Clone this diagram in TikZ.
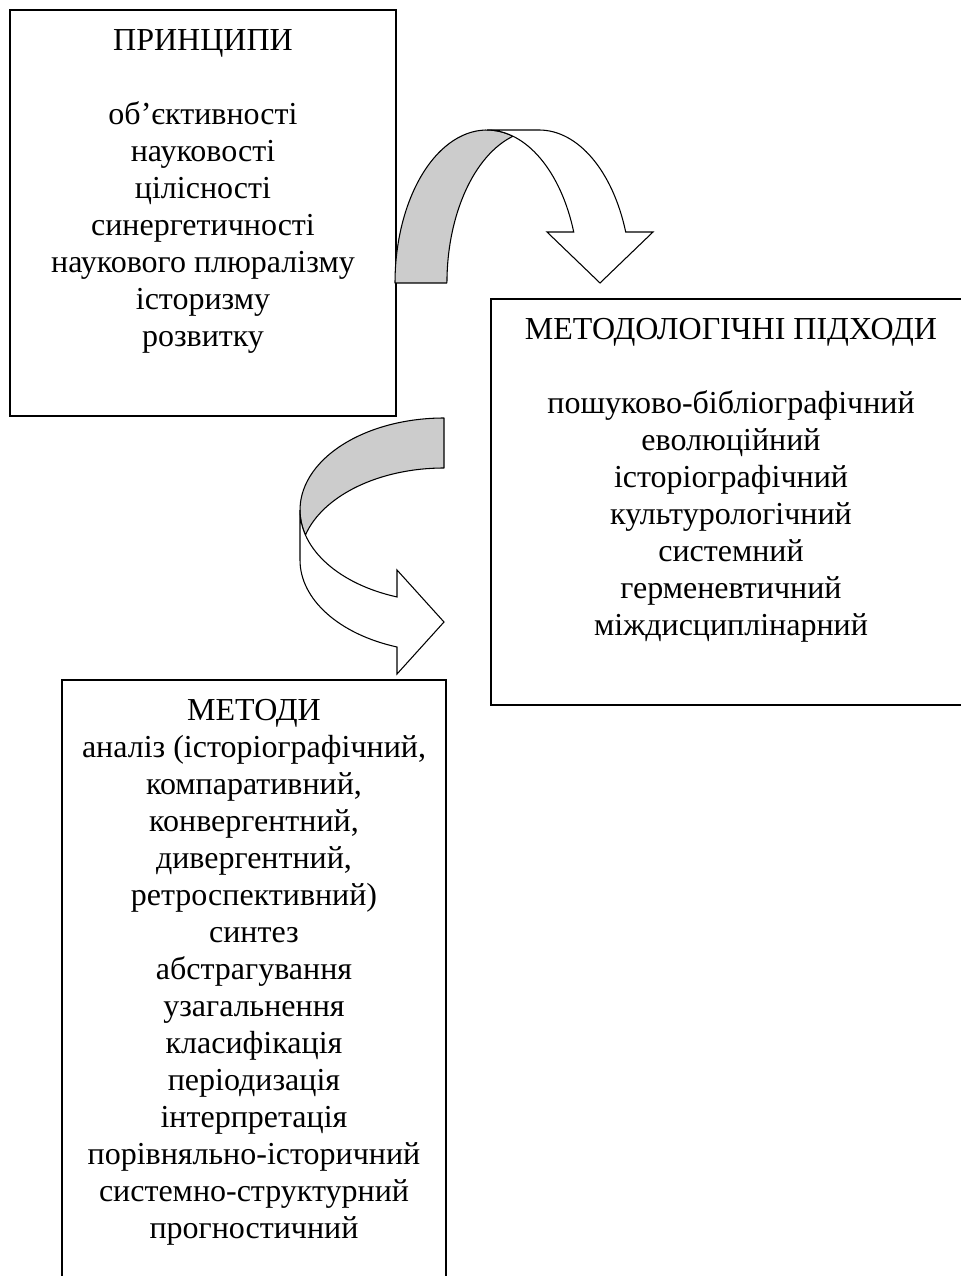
\documentclass[tikz,border=0pt]{standalone}
\usepackage{fontspec}
\setmainfont{Liberation Serif}
\usetikzlibrary{positioning,fit}

\begin{document}
\begin{tikzpicture}[
  x=0.75pt, y=0.75pt,
  frame/.style={draw, line width=0.8pt, inner sep=0pt},
  boxtext/.style={align=center, inner sep=0pt, font=\fontsize{24}{27.75}\selectfont},
  backpart/.style={draw, line width=0.8pt, fill=black!20, line join=round},
  frontpart/.style={draw, line width=0.8pt, fill=white, line join=miter},
]
\useasboundingbox (0,0) rectangle (960,-1276);

% frames
\node[frame, fit={(10,-10) (396,-416)}] (prinbox) {};
\node[frame, fit={(491,-299) (971,-705)}] (approachbox) {};
\node[frame, fit={(62,-680) (446,-1290)}] (methodbox) {};

% texts
\node[boxtext, below=14.6pt of prinbox.north] (prin) {ПРИНЦИПИ\\[27.75pt]
  об’єктивності\\ науковості\\ цілісності\\ синергетичності\\
  наукового плюралізму\\ історизму\\ розвитку};
\node[boxtext, below=14.6pt of approachbox.north] (approach) {МЕТОДОЛОГІЧНІ ПІДХОДИ\\[27.75pt]
  пошуково-бібліографічний\\ еволюційний\\ історіографічний\\ культурологічний\\
  системний\\ герменевтичний\\ міждисциплінарний};
\node[boxtext, below=14.6pt of methodbox.north] (method) {МЕТОДИ\\
  аналіз (історіографічний,\\ компаративний,\\ конвергентний,\\ дивергентний,\\
  ретроспективний)\\ синтез\\ абстрагування\\ узагальнення\\ класифікація\\
  періодизація\\ інтерпретація\\ порівняльно-історичний\\ системно-структурний\\
  прогностичний};

% curved arrow down, principles -> approaches
\draw[backpart] (395,-283) arc[start angle=180, end angle=73.6, x radius=92, y radius=153]
  arc[start angle=106.4, end angle=180, x radius=92, y radius=153] -- cycle;
\draw[frontpart] (487,-130) arc[start angle=90, end angle=19.47, x radius=92, y radius=153]
  -- (547,-232) -- (600,-283) -- (653,-232) -- (625.7,-232)
  arc[start angle=19.47, end angle=90, x radius=92, y radius=153] -- cycle;

% curved arrow right, towards the methods
\draw[backpart] (444,-418) arc[start angle=90, end angle=195.77, x radius=144, y radius=92]
  arc[start angle=164.23, end angle=90, x radius=144, y radius=92] -- cycle;
\draw[frontpart] (300,-510) arc[start angle=180, end angle=250.95, x radius=144, y radius=92]
  -- (397,-570) -- (444,-622) -- (397,-674) -- (397,-647)
  arc[start angle=250.95, end angle=180, x radius=144, y radius=92] -- cycle;

\end{tikzpicture}
\end{document}
